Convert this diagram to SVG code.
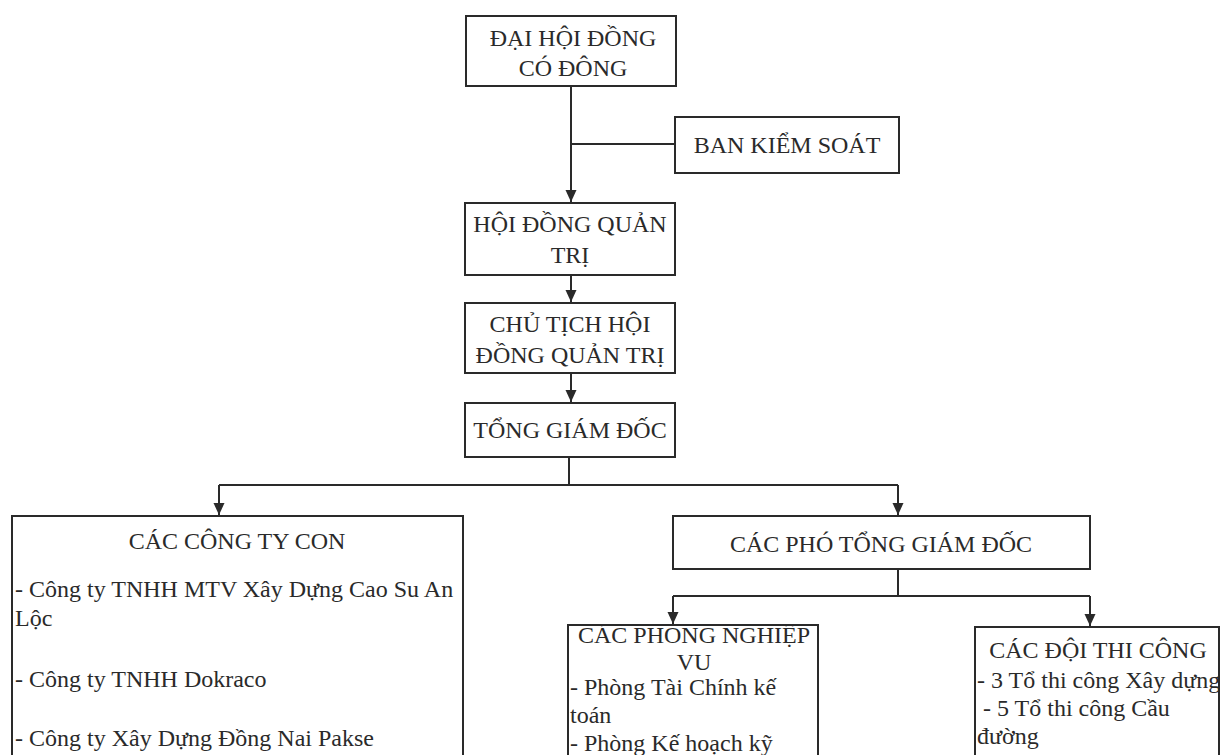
<svg xmlns="http://www.w3.org/2000/svg" width="1220" height="755" viewBox="0 0 1220 755">
<style>
  .box { fill: #ffffff; stroke: #2a2a2a; stroke-width: 2; }
  .t { font-family: "Liberation Serif", "Times New Roman", serif; font-size: 24px; fill: #2a2a2a; }
  .c { text-anchor: middle; }
  .ln { fill: none; stroke: #2a2a2a; stroke-width: 2; }
</style>
<defs>
  <marker id="arr" markerUnits="userSpaceOnUse" markerWidth="12" markerHeight="12" refX="12" refY="5.5" orient="auto">
    <path d="M0,0 L12,5.5 L0,11 z" fill="#2a2a2a"/>
  </marker>
  <clipPath id="clipPhong"><rect x="569" y="626" width="248" height="140"/></clipPath>
</defs>
<rect width="1220" height="755" fill="#ffffff"/>

<g id="connectors">
  <path class="ln" d="M571,86 V202" marker-end="url(#arr)"/>
  <path class="ln" d="M571,144 H675"/>
  <path class="ln" d="M571,275 V302" marker-end="url(#arr)"/>
  <path class="ln" d="M571,373 V402" marker-end="url(#arr)"/>
  <path class="ln" d="M569,457 V485 M219,485 H898"/>
  <path class="ln" d="M219,485 V515" marker-end="url(#arr)"/>
  <path class="ln" d="M898,485 V515" marker-end="url(#arr)"/>
  <path class="ln" d="M898,569 V596 M673,596 H1090"/>
  <path class="ln" d="M673,596 V624" marker-end="url(#arr)"/>
  <path class="ln" d="M1090,596 V626" marker-end="url(#arr)"/>
</g>

<g id="dai-hoi-dong-co-dong">
  <rect class="box" x="466" y="16" width="210" height="70"/>
  <text class="t c" x="573" y="46">ĐẠI HỘI ĐỒNG</text>
  <text class="t c" x="573" y="76">CÓ ĐÔNG</text>
</g>

<g id="ban-kiem-soat">
  <rect class="box" x="675" y="117" width="224" height="56"/>
  <text class="t c" x="787" y="153">BAN KIỂM SOÁT</text>
</g>

<g id="hoi-dong-quan-tri">
  <rect class="box" x="465" y="203" width="210" height="72"/>
  <text class="t c" x="570" y="232">HỘI ĐỒNG QUẢN</text>
  <text class="t c" x="570" y="263">TRỊ</text>
</g>

<g id="chu-tich-hdqt">
  <rect class="box" x="465" y="303" width="210" height="70"/>
  <text class="t c" x="570" y="332">CHỦ TỊCH HỘI</text>
  <text class="t c" x="570" y="363">ĐỒNG QUẢN TRỊ</text>
</g>

<g id="tong-giam-doc">
  <rect class="box" x="465" y="403" width="210" height="54"/>
  <text class="t c" x="570" y="438">TỔNG GIÁM ĐỐC</text>
</g>

<g id="cac-cong-ty-con">
  <rect class="box" x="12" y="516" width="451" height="260"/>
  <text class="t c" x="237" y="549">CÁC CÔNG TY CON</text>
  <text class="t" x="15" y="597">- Công ty TNHH MTV Xây Dựng Cao Su An</text>
  <text class="t" x="15" y="626">Lộc</text>
  <text class="t" x="15" y="687">- Công ty TNHH Dokraco</text>
  <text class="t" x="15" y="746">- Công ty Xây Dựng Đồng Nai Pakse</text>
</g>

<g id="cac-pho-tong-giam-doc">
  <rect class="box" x="673" y="516" width="417" height="53"/>
  <text class="t c" x="881" y="552">CÁC PHÓ TỔNG GIÁM ĐỐC</text>
</g>

<g id="cac-phong-nghiep-vu">
  <rect class="box" x="568" y="625" width="250" height="150"/>
  <g clip-path="url(#clipPhong)">
    <text class="t c" x="694" y="643">CÁC PHÒNG NGHIỆP</text>
  </g>
  <text class="t c" x="694" y="670">VU</text>
  <text class="t" x="570" y="695">- Phòng Tài Chính kế</text>
  <text class="t" x="570" y="723">toán</text>
  <text class="t" x="570" y="751">- Phòng Kế hoạch kỹ</text>
</g>

<g id="cac-doi-thi-cong">
  <rect class="box" x="975" y="627" width="244" height="150"/>
  <text class="t c" x="1098" y="658">CÁC ĐỘI THI CÔNG</text>
  <text class="t" x="977" y="688">- 3 Tổ thi công Xây dựng</text>
  <text class="t" x="977" y="716" xml:space="preserve"> - 5 Tổ thi công Cầu</text>
  <text class="t" x="977" y="744">đường</text>
</g>
</svg>
